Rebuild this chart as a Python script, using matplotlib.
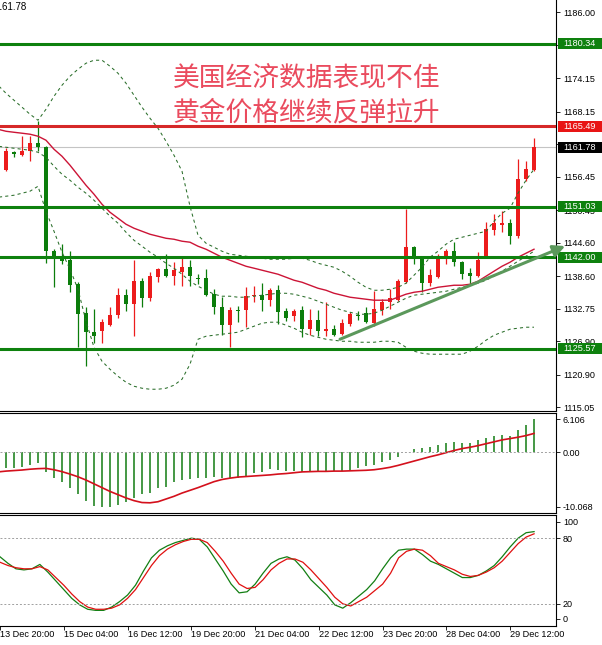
import numpy as np
import matplotlib.pyplot as plt
from matplotlib.patches import Rectangle
from matplotlib.transforms import blended_transform_factory

plt.rcParams['font.family'] = ['Liberation Sans', 'DejaVu Sans']

# XAUUSD H4, bars, oldest first
opens = [1157.26, 1157.62, 1160.85, 1160.31, 1161.03, 1162.47, 1161.75, 1143.07, 1142.17, 1141.45,
         1137.14, 1131.93, 1128.52, 1128.70, 1129.78, 1131.57, 1135.17, 1133.55, 1137.68, 1134.63,
         1138.40, 1139.84, 1138.58, 1139.30, 1140.19, 1138.22, 1138.22, 1135.35, 1133.01, 1129.78,
         1132.47, 1132.47, 1134.99, 1135.17, 1134.27, 1136.06, 1132.29, 1131.39, 1132.47, 1129.06,
         1130.67, 1128.70, 1129.06, 1128.16, 1129.96, 1131.57, 1131.93, 1130.14, 1132.47, 1133.91,
         1134.27, 1137.50, 1143.79, 1141.99, 1137.32, 1138.40, 1141.63, 1143.07, 1141.09, 1139.12,
         1138.58, 1141.99, 1146.84, 1147.74, 1148.10, 1145.76, 1156.00, 1157.62]
highs = [1158.70, 1161.57, 1161.03, 1163.73, 1163.73, 1166.42, 1161.93, 1143.43, 1144.33, 1143.07,
         1137.50, 1133.01, 1132.65, 1130.85, 1133.01, 1136.42, 1136.24, 1141.45, 1138.22, 1139.30,
         1140.02, 1142.53, 1141.09, 1142.17, 1141.45, 1138.94, 1139.84, 1136.24, 1134.81, 1133.01,
         1133.19, 1136.60, 1136.78, 1137.32, 1136.42, 1136.96, 1132.83, 1132.65, 1133.19, 1132.65,
         1132.47, 1133.91, 1129.78, 1130.85, 1132.11, 1132.29, 1133.01, 1135.88, 1134.45, 1136.24,
         1138.04, 1150.61, 1143.97, 1142.17, 1139.84, 1142.53, 1143.43, 1144.68, 1141.27, 1140.02,
         1142.89, 1148.28, 1149.71, 1150.25, 1148.82, 1159.59, 1159.23, 1163.37]
lows = [1156.72, 1157.44, 1159.95, 1160.13, 1159.23, 1161.03, 1140.91, 1136.60, 1140.73, 1135.70,
        1125.82, 1122.41, 1126.54, 1126.54, 1129.60, 1131.03, 1132.29, 1127.80, 1133.01, 1134.09,
        1137.50, 1138.40, 1136.96, 1136.78, 1136.78, 1137.14, 1134.99, 1131.75, 1127.98, 1125.82,
        1130.32, 1129.42, 1133.91, 1132.29, 1133.19, 1129.96, 1130.49, 1130.49, 1127.62, 1127.98,
        1127.80, 1127.80, 1127.80, 1127.98, 1129.60, 1130.67, 1130.14, 1129.60, 1131.57, 1132.65,
        1134.09, 1137.32, 1140.73, 1135.70, 1136.78, 1138.22, 1140.73, 1140.37, 1138.04, 1137.14,
        1138.40, 1141.81, 1145.94, 1146.48, 1144.33, 1145.40, 1155.64, 1157.44]
closes = [1158.16, 1161.03, 1160.49, 1161.03, 1162.47, 1161.75, 1143.07, 1142.17, 1141.27, 1136.96,
          1131.75, 1128.52, 1127.80, 1130.32, 1131.57, 1135.17, 1133.55, 1137.68, 1134.63, 1138.58,
          1139.84, 1138.58, 1139.66, 1140.19, 1138.58, 1138.04, 1135.17, 1133.01, 1129.78, 1132.47,
          1132.29, 1134.99, 1135.17, 1134.27, 1136.06, 1132.11, 1131.03, 1132.29, 1129.06, 1130.67,
          1128.70, 1129.06, 1127.98, 1130.14, 1131.75, 1131.39, 1130.32, 1132.65, 1133.91, 1134.63,
          1137.68, 1143.79, 1141.63, 1137.32, 1138.76, 1142.17, 1143.07, 1141.09, 1138.94, 1138.58,
          1141.45, 1147.02, 1148.10, 1148.10, 1145.76, 1156.00, 1157.80, 1161.78]

# bollinger bands (dashed) and the red moving average
bb_upper = [1172.89, 1171.45, 1170.19, 1168.94, 1167.68, 1166.60, 1168.58, 1170.91, 1172.89, 1174.50,
            1175.76, 1176.84, 1177.38, 1177.38, 1176.30, 1175.04, 1173.25, 1171.09, 1168.94, 1166.96,
            1165.16, 1162.83, 1160.31, 1157.44, 1151.15, 1145.94, 1144.51, 1143.79, 1143.07, 1142.53,
            1142.35, 1142.17, 1141.99, 1141.81, 1141.63, 1141.63, 1141.63, 1141.81, 1141.81, 1141.45,
            1140.91, 1140.55, 1140.19, 1139.48, 1138.58, 1137.50, 1136.60, 1136.06, 1136.06, 1136.24,
            1136.60, 1137.32, 1138.76, 1140.19, 1141.99, 1143.07, 1144.33, 1145.22, 1145.58, 1145.94,
            1146.30, 1146.66, 1148.46, 1149.89, 1150.79, 1153.49, 1155.82, 1157.80]
bb_middle = [1161.93, 1161.75, 1161.57, 1161.39, 1161.21, 1160.85, 1159.95, 1158.34, 1156.90, 1155.82,
             1154.56, 1153.49, 1152.23, 1150.79, 1149.36, 1148.10, 1146.48, 1145.04, 1143.97, 1142.89,
             1141.99, 1140.91, 1140.02, 1138.94, 1137.68, 1136.78, 1136.06, 1135.35, 1134.99, 1134.99,
             1134.81, 1134.81, 1134.99, 1135.17, 1135.35, 1135.52, 1135.52, 1135.35, 1134.99, 1134.63,
             1134.09, 1133.55, 1133.01, 1132.47, 1132.11, 1131.75, 1131.75, 1131.93, 1132.47, 1133.19,
             1133.91, 1134.63, 1135.17, 1135.35, 1135.52, 1135.70, 1135.88, 1136.24, 1136.60, 1136.96,
             1137.32, 1137.86, 1138.58, 1139.48, 1140.37, 1141.27, 1142.17, 1143.07]
bb_lower = [1152.77, 1152.95, 1153.13, 1153.49, 1153.85, 1154.74, 1150.25, 1146.66, 1142.89, 1139.84,
            1136.24, 1130.49, 1125.82, 1123.31, 1121.87, 1120.61, 1119.54, 1118.82, 1118.46, 1118.28,
            1118.28, 1118.46, 1119.00, 1120.08, 1122.77, 1127.26, 1127.80, 1127.98, 1128.16, 1128.34,
            1128.52, 1129.06, 1129.60, 1130.14, 1130.32, 1130.32, 1129.78, 1129.24, 1128.52, 1127.98,
            1127.62, 1127.26, 1127.08, 1126.90, 1126.90, 1126.72, 1126.72, 1126.72, 1126.90, 1126.90,
            1126.72, 1125.82, 1125.11, 1124.75, 1124.57, 1124.57, 1124.57, 1124.57, 1124.57, 1125.11,
            1126.00, 1127.08, 1127.98, 1128.52, 1129.06, 1129.24, 1129.42, 1129.42]
ma_red = [1164.98, 1164.62, 1164.44, 1164.27, 1164.09, 1163.73, 1163.01, 1161.39, 1160.13, 1158.52,
          1156.72, 1154.92, 1153.31, 1151.51, 1150.07, 1149.00, 1147.92, 1147.20, 1146.66, 1146.12,
          1145.76, 1145.40, 1145.22, 1144.87, 1144.69, 1143.97, 1143.43, 1142.71, 1141.99, 1141.45,
          1140.91, 1140.37, 1140.02, 1139.66, 1139.30, 1138.94, 1138.40, 1137.86, 1137.50, 1136.96,
          1136.42, 1136.06, 1135.52, 1135.17, 1134.81, 1134.63, 1134.45, 1134.27, 1134.27, 1134.27,
          1134.81, 1135.35, 1135.70, 1135.88, 1136.24, 1136.60, 1136.78, 1136.96, 1136.96, 1137.14,
          1137.68, 1138.58, 1139.48, 1140.37, 1141.09, 1141.99, 1142.71, 1143.43]

# MACD panel
macd_hist = [-3.00, -2.93, -2.82, -2.64, -2.32, -2.01, -3.56, -4.67, -5.52, -6.62,
             -7.73, -8.97, -9.83, -10.068, -10.05, -9.70, -9.10, -8.47, -7.73, -7.55,
             -6.62, -6.33, -5.52, -5.09, -4.91, -4.78, -4.67, -4.48, -4.78, -4.67,
             -4.67, -4.30, -3.86, -3.56, -3.06, -3.25, -3.43, -3.43, -3.56, -3.43,
             -3.43, -3.43, -3.43, -3.43, -3.25, -2.82, -2.51, -2.32, -1.72, -1.40,
             -0.79, 0.05, 0.57, 0.87, 1.05, 1.37, 1.79, 1.97, 1.79, 1.68,
             2.29, 2.60, 3.08, 3.21, 3.08, 4.13, 5.06, 6.106]
macd_signal = [-3.60, -3.45, -3.35, -3.25, -3.10, -3.00, -2.95, -3.20, -3.55, -4.00,
               -4.50, -5.10, -5.80, -6.50, -7.20, -7.80, -8.40, -8.90, -9.25, -9.30,
               -9.10, -8.60, -8.10, -7.50, -7.00, -6.50, -5.95, -5.40, -5.00, -4.75,
               -4.55, -4.45, -4.35, -4.25, -4.15, -4.00, -3.90, -3.75, -3.60, -3.55,
               -3.50, -3.50, -3.45, -3.45, -3.40, -3.35, -3.30, -3.20, -3.00, -2.75,
               -2.40, -2.00, -1.60, -1.20, -0.80, -0.45, -0.05, 0.35, 0.70, 0.95,
               1.25, 1.60, 1.95, 2.30, 2.55, 2.80, 3.10, 3.50]

# stochastic panel
stoch_k = [63, 57, 52, 51, 52, 56, 49, 41, 33, 25,
           19, 15, 14, 14, 17, 22, 28, 37, 50, 62,
           69, 73, 76, 78, 80, 79, 72, 61, 50, 38,
           30, 31, 38, 48, 57, 61, 63, 60, 52, 42,
           35, 28, 19, 16, 21, 27, 33, 41, 52, 62,
           69, 70, 70, 65, 59, 56, 52, 48, 44, 44,
           46, 50, 55, 63, 72, 80, 85, 86]
stoch_d = [58, 55, 53, 52, 52, 54, 51, 44, 37, 29,
           22, 17, 15, 15, 16, 19, 25, 33, 44, 55,
           64, 70, 74, 77, 79, 79, 76, 68, 59, 48,
           38, 34, 35, 42, 51, 57, 61, 61, 58, 51,
           43, 35, 26, 20, 18, 22, 26, 32, 38, 48,
           62, 68, 70, 69, 64, 57, 54, 51, 47, 45,
           46, 49, 53, 59, 67, 75, 81, 84]

time_labels = ['13 Dec 20:00', '15 Dec 04:00', '16 Dec 12:00', '19 Dec 20:00', '21 Dec 04:00',
               '22 Dec 12:00', '23 Dec 20:00', '28 Dec 04:00', '29 Dec 12:00']
time_label_bars = [0, 8, 16, 24, 32, 40, 48, 56, 64]

price_ticks = [1186.00, 1180.15, 1174.15, 1168.15, 1162.30, 1156.45, 1150.45,
               1144.60, 1138.60, 1132.75, 1126.90, 1120.90, 1115.05]
green_levels = [1180.34, 1151.03, 1142.00, 1125.57]
red_level = 1165.49
last_price = 1161.78

headline = ['美国经济数据表现不佳', '黄金价格继续反弹拉升']

W, H = 602, 645
fig = plt.figure(figsize=(W / 100, H / 100), dpi=100)


def panel(top, bottom):
    return fig.add_axes([0, 1 - bottom / H, 556 / W, (bottom - top) / H])


ax = panel(0, 411)
axm = panel(413, 513)
axs = panel(515, 626)

x = np.arange(len(opens))
o = np.array(opens)
c = np.array(closes)
col = np.where(c >= o, '#ec1c1c', '#0b7d0b')

# candles
ax.vlines(x, lows, highs, colors=col, lw=0.9, zorder=2)
ax.bar(x, np.maximum(np.abs(c - o), 0.2), bottom=np.minimum(o, c), width=0.62,
       color=col, linewidth=0, zorder=2.5)

dash = (0, (3, 3))
for band in (bb_upper, bb_middle, bb_lower):
    ax.plot(x, band, color='#2a6e2a', lw=0.75, ls=dash, zorder=3)
ax.plot(x, ma_red, color='#cc1436', lw=1.0, zorder=3)

ax.axhline(last_price, color='#c4c4c4', lw=0.8, zorder=1)
for lv in green_levels:
    ax.axhline(lv, color='#0e810e', lw=2.2, zorder=4)
ax.axhline(red_level, color='#d62828', lw=2.2, zorder=4)

arr = ax.annotate('', xy=(70.9, 1144.0), xytext=(42.75, 1127.26),
                  arrowprops=dict(arrowstyle='-|>,head_length=0.7,head_width=0.35',
                                  color='#5b985b', lw=2.2, shrinkA=0, shrinkB=0),
                  annotation_clip=False, zorder=20)
arr.arrow_patch.set_clip_on(False)

for i, line in enumerate(headline):
    fig.text(173 / W, 1 - (78 + 35 * i) / H, line, family=['Noto Sans CJK SC'],
             fontsize=19.3, color='#ea4b5e', ha='left', va='center')

ax.set_xlim(0.25, 69.75)
ax.set_ylim(1114.37, 1188.2)
ax.yaxis.tick_right()
ax.set_yticks(price_ticks)
ax.set_yticklabels(['%.2f' % p for p in price_ticks])
ax.tick_params(axis='y', length=3, width=0.6, labelsize=6.5, pad=2)
ax.set_xticks([])
for s in ('top', 'left'):
    ax.spines[s].set_visible(False)

# coloured price boxes on the right scale
tr = blended_transform_factory(ax.transAxes, ax.transData)
boxes = [(v, '#0e810e') for v in green_levels] + [(red_level, '#e81515'), (last_price, '#000000')]
for v, fc in boxes:
    ax.add_patch(Rectangle((1.0036, v - 0.99), 0.079, 1.98, transform=tr, fc=fc, ec='none',
                           clip_on=False, zorder=14))
    ax.text(1.0425, v, '%.2f' % v, transform=tr, ha='center', va='center', fontsize=6.6,
            color='white', clip_on=False, zorder=15)

fig.text(-8 / W, 1 - 2 / H, '1161.78', fontsize=7, ha='left', va='top')

# MACD
axm.vlines(x, 0, macd_hist, colors='#127c12', lw=1.1)
axm.plot(x, macd_signal, color='#d4101c', lw=1.2)
axm.axhline(0, color='#a0a0a0', lw=0.7, ls=(0, (2, 2)))
axm.set_xlim(0.25, 69.75)
axm.set_ylim(-11.18, 7.27)
axm.yaxis.tick_right()
axm.set_yticks([6.106, 0, -10.068])
axm.set_yticklabels(['6.106', '0.00', '-10.068'])
axm.tick_params(axis='y', length=3, width=0.6, labelsize=6.5, pad=2)
axm.set_xticks([])
axm.spines['left'].set_visible(False)

# Stochastic
axs.plot(x, stoch_k, color='#137f13', lw=0.9)
axs.plot(x, stoch_d, color='#e01010', lw=0.9)
for lv in (80, 20):
    axs.axhline(lv, color='#a0a0a0', lw=0.7, ls=(0, (2, 2)))
axs.set_xlim(0.25, 69.75)
axs.set_ylim(-0.3, 101.2)
axs.yaxis.tick_right()
axs.set_yticks([94.8, 80, 20, 6.4])
axs.set_yticklabels(['100', '80', '20', '0'])
axs.tick_params(axis='y', length=3, width=0.6, labelsize=6.5, pad=2)
axs.set_xticks(time_label_bars)
axs.set_xticklabels([])
axs.tick_params(axis='x', length=3, width=0.6)
axs.spines['left'].set_visible(False)

trs = blended_transform_factory(axs.transData, axs.transAxes)
for b, lab in zip(time_label_bars, time_labels):
    axs.text(b, -0.08, lab, transform=trs, ha='left', va='center', fontsize=6.6, clip_on=False)

fig.savefig('out.png', dpi=100)
